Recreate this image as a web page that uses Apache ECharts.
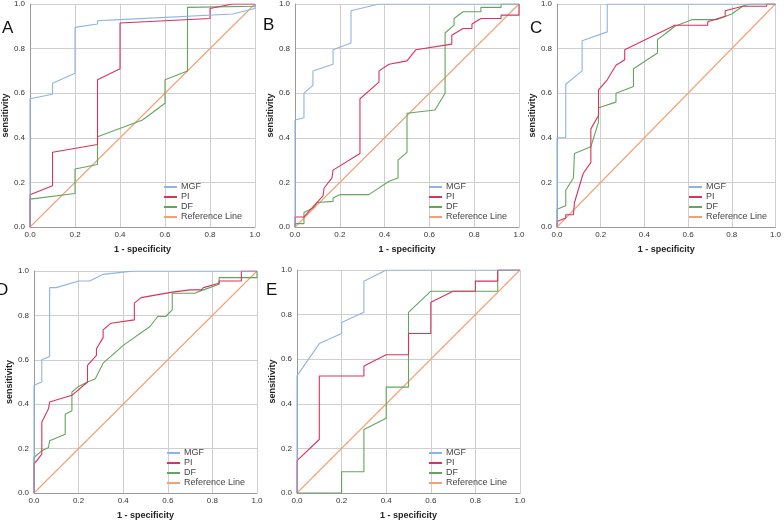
<!DOCTYPE html>
<html>
<head>
<meta charset="utf-8">
<script src="https://cdn.jsdelivr.net/npm/echarts@6/dist/echarts.min.js"></script>
<style>
  html, body { margin: 0; padding: 0; background: #fff; }
  #main { width: 784px; height: 523px; }
</style>
</head>
<body>
<div id="main"></div>
<script>
// ROC 曲线数据 [1 - specificity, sensitivity]
var ticks = [0, 0.2, 0.4, 0.6, 0.8, 1.0];
var seriesNames = ['MGF', 'PI', 'DF', 'Reference Line'];
var panelLetters = ['A', 'B', 'C', 'D', 'E'];
var refLine = [[0, 0], [1, 1]];

var aMGF = [[0,0],[0,0.575],[0.1,0.595],[0.1,0.645],[0.2,0.69],[0.2,0.895],[0.3,0.91],[0.3,0.925],[0.4,0.93],[0.9,0.955],[1,0.98],[1,1]];
var aPI  = [[0,0],[0,0.145],[0.1,0.185],[0.1,0.335],[0.3,0.37],[0.3,0.66],[0.4,0.71],[0.4,0.915],[0.8,0.935],[0.8,0.98],[0.9,1],[1,1]];
var aDF  = [[0,0],[0,0.125],[0.2,0.15],[0.2,0.26],[0.3,0.28],[0.3,0.405],[0.5,0.48],[0.6,0.555],[0.6,0.66],[0.7,0.7],[0.7,0.985],[1,0.99],[1,1]];

var bMGF = [[0,0],[0,0.48],[0.04,0.49],[0.04,0.6],[0.08,0.635],[0.08,0.7],[0.17,0.73],[0.17,0.795],[0.25,0.825],[0.25,0.97],[0.375,1],[1,1]];
var bPI  = [[0,0],[0,0.045],[0.04,0.045],[0.08,0.09],[0.125,0.14],[0.13,0.175],[0.165,0.22],[0.17,0.255],[0.29,0.33],[0.29,0.575],[0.375,0.65],[0.375,0.7],[0.42,0.73],[0.5,0.745],[0.54,0.795],[0.7,0.82],[0.7,0.86],[0.75,0.89],[0.79,0.89],[0.79,0.91],[0.83,0.935],[0.92,0.935],[0.92,0.95],[1,0.95],[1,1]];
var bDF  = [[0,0],[0,0.015],[0.04,0.015],[0.04,0.065],[0.08,0.085],[0.1,0.11],[0.17,0.115],[0.17,0.13],[0.2,0.145],[0.33,0.145],[0.42,0.205],[0.46,0.22],[0.46,0.3],[0.5,0.335],[0.5,0.51],[0.625,0.525],[0.67,0.6],[0.67,0.87],[0.71,0.905],[0.71,0.935],[0.75,0.965],[0.83,0.965],[0.83,0.985],[0.92,0.985],[0.92,1],[1,1]];

var cMGF = [[0,0],[0,0.4],[0.04,0.4],[0.04,0.64],[0.115,0.7],[0.115,0.835],[0.23,0.875],[0.23,1],[1,1]];
var cPI  = [[0,0],[0,0.025],[0.04,0.04],[0.04,0.055],[0.075,0.055],[0.08,0.11],[0.12,0.24],[0.155,0.29],[0.155,0.44],[0.19,0.5],[0.19,0.615],[0.23,0.66],[0.27,0.725],[0.31,0.75],[0.31,0.795],[0.54,0.905],[0.69,0.905],[0.69,0.92],[0.77,0.945],[0.77,0.97],[0.85,0.99],[0.96,0.99],[0.96,1],[1,1]];
var cDF  = [[0,0],[0,0.08],[0.04,0.095],[0.04,0.165],[0.075,0.22],[0.08,0.33],[0.155,0.36],[0.19,0.47],[0.19,0.535],[0.27,0.56],[0.27,0.6],[0.35,0.63],[0.35,0.71],[0.46,0.78],[0.46,0.84],[0.5,0.87],[0.54,0.9],[0.62,0.93],[0.73,0.93],[0.8,0.955],[0.85,0.99],[0.88,1],[1,1]];

var dMGF = [[0,0],[0,0.485],[0.035,0.5],[0.035,0.6],[0.07,0.615],[0.07,0.925],[0.1,0.925],[0.2,0.955],[0.25,0.955],[0.31,0.985],[0.4,0.995],[0.45,1],[1,1]];
var dPI  = [[0,0],[0,0.13],[0.035,0.175],[0.035,0.32],[0.065,0.38],[0.07,0.41],[0.17,0.44],[0.24,0.5],[0.24,0.575],[0.28,0.62],[0.28,0.65],[0.31,0.7],[0.31,0.735],[0.345,0.765],[0.45,0.78],[0.45,0.855],[0.48,0.88],[0.62,0.905],[0.7,0.915],[0.75,0.915],[0.76,0.925],[0.83,0.945],[0.83,0.955],[0.93,0.955],[0.93,1],[1,1]];
var dDF  = [[0,0],[0,0.16],[0.035,0.19],[0.065,0.205],[0.07,0.235],[0.14,0.265],[0.14,0.355],[0.17,0.37],[0.17,0.455],[0.2,0.48],[0.24,0.5],[0.275,0.515],[0.31,0.585],[0.4,0.665],[0.52,0.75],[0.555,0.795],[0.59,0.795],[0.62,0.825],[0.62,0.9],[0.72,0.9],[0.76,0.915],[0.83,0.94],[0.83,0.97],[1,0.97],[1,1]];

var eMGF = [[0,0],[0,0.525],[0.1,0.67],[0.2,0.715],[0.2,0.765],[0.3,0.81],[0.3,0.95],[0.4,1],[1,1]];
var ePI  = [[0,0],[0,0.145],[0.1,0.24],[0.1,0.525],[0.3,0.525],[0.3,0.57],[0.4,0.62],[0.5,0.62],[0.5,0.715],[0.6,0.715],[0.6,0.855],[0.7,0.905],[0.8,0.905],[0.8,0.95],[0.9,0.95],[0.9,1],[1,1]];
var eDF  = [[0,0],[0.2,0],[0.2,0.095],[0.3,0.095],[0.3,0.285],[0.4,0.335],[0.4,0.475],[0.5,0.475],[0.5,0.81],[0.6,0.905],[0.9,0.905],[0.9,1],[1,1]];

var panelData = [
    [aMGF, aPI, aDF],
    [bMGF, bPI, bDF],
    [cMGF, cPI, cDF],
    [dMGF, dPI, dDF],
    [eMGF, ePI, eDF]
];

var colors = ['#8fb4e3', '#d9325c', '#62a65c', '#f3a173'];

// 每个面板的位置 (像素)
var layout = [
    { left: 30,  top: 3,   width: 225, height: 224, letter: [2, 20],   legend: [164, 182] },
    { left: 295, top: 3,   width: 224, height: 224, letter: [263, 17], legend: [429, 182] },
    { left: 557, top: 4,   width: 223, height: 223, letter: [530, 20], legend: [689, 182] },
    { left: 34,  top: 271, width: 223, height: 222, letter: [-4, 282], legend: [167, 448] },
    { left: 297, top: 270, width: 223, height: 223, letter: [266, 282], legend: [429, 448] }
];

var myChart = echarts.init(document.getElementById('main'));

var grids = [], xAxes = [], yAxes = [], titles = [], legends = [], series = [];

layout.forEach(function (p, i) {
    grids.push({ left: p.left, top: p.top, width: p.width, height: p.height });
    var axisCommon = {
        type: 'value',
        gridIndex: i,
        min: 0,
        max: 1,
        interval: 0.2,
        axisLine: { show: true, lineStyle: { color: '#9a9a9a', width: 1 } },
        axisTick: { show: false },
        axisLabel: {
            fontSize: 8, color: '#333', fontFamily: 'Liberation Sans',
            formatter: function (v) { return v.toFixed(1); }
        },
        splitLine: { show: true, lineStyle: { color: '#cfcfcf', width: 1 } },
        nameTextStyle: { fontSize: 9, fontWeight: 'bold', color: '#222', fontFamily: 'Liberation Sans' }
    };
    xAxes.push(Object.assign({}, axisCommon, {
        name: '1 - specificity', nameLocation: 'middle', nameGap: 18,
        axisLabel: Object.assign({}, axisCommon.axisLabel, { margin: 4 })
    }));
    yAxes.push(Object.assign({}, axisCommon, {
        name: 'sensitivity', nameLocation: 'middle', nameGap: 17,
        axisLabel: Object.assign({}, axisCommon.axisLabel, { margin: 5 })
    }));
    titles.push({
        text: panelLetters[i], left: p.letter[0], top: p.letter[1],
        padding: 0,
        textStyle: { fontSize: 17, fontWeight: 'normal', color: '#111', fontFamily: 'Liberation Sans' }
    });
    legends.push({
        data: seriesNames,
        orient: 'vertical',
        left: p.legend[0], top: p.legend[1],
        padding: 0,
        itemGap: 0,
        itemWidth: 13, itemHeight: 2,
        icon: 'rect',
        selectedMode: false,
        textStyle: { fontSize: 9, color: '#444', lineHeight: 10, padding: [0, 0, 0, -1], fontFamily: 'Liberation Sans' }
    });
    var curves = panelData[i].concat([refLine]);
    curves.forEach(function (d, k) {
        series.push({
            name: seriesNames[k],
            type: 'line',
            xAxisIndex: i, yAxisIndex: i,
            data: d,
            showSymbol: false,
            symbol: 'none',
            animation: false,
            color: colors[k],
            lineStyle: { width: 1.1, color: colors[k] },
            z: 5 - k
        });
    });
});

var option = {
    backgroundColor: '#fff',
    title: titles,
    legend: legends,
    grid: grids,
    xAxis: xAxes,
    yAxis: yAxes,
    series: series
};
myChart.setOption(option);
</script>
</body>
</html>
